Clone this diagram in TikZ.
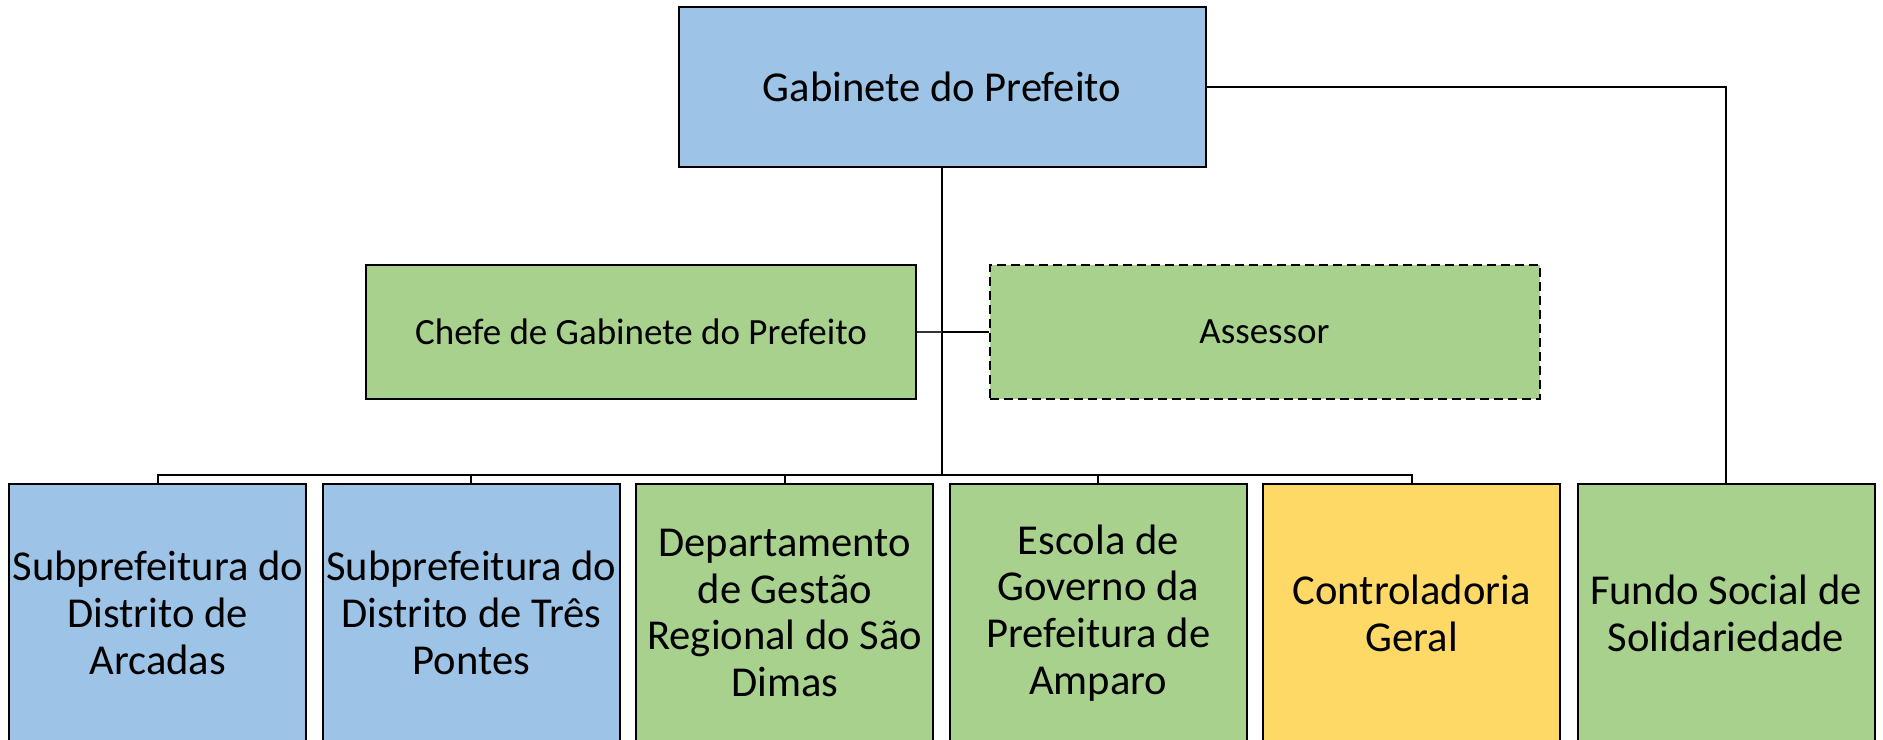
\documentclass[tikz,border=0pt]{standalone}
\usepackage{fontspec}
\setmainfont{Carlito}
\usetikzlibrary{calc}

\definecolor{boxblue}{HTML}{9DC3E6}
\definecolor{boxgreen}{HTML}{A9D18E}
\definecolor{boxyellow}{HTML}{FFD966}

\begin{document}
\begin{tikzpicture}[x=0.5pt,y=-0.5pt,
  unitbox/.style={draw,line width=1pt,inner sep=0pt,align=center,
    font=\fontsize{21.3}{23.4}\selectfont},
  topbox/.style={unitbox,minimum width=263.5pt,minimum height=80pt},
  midbox/.style={unitbox,minimum width=275pt,minimum height=67pt,
    font=\fontsize{18.5}{22}\selectfont},
  lowbox/.style={unitbox,minimum width=148.5pt,minimum height=129pt},
  conn/.style={line width=1pt}]
  \useasboundingbox (0,0) rectangle (1883,739);

  % top and staff
  \node[topbox,fill=boxblue] (gab) at (942,86.5) {Gabinete do Prefeito};
  \node[midbox,fill=boxgreen] (chefe) at (641,332) {Chefe de Gabinete do Prefeito};
  \node[midbox,fill=boxgreen,dash pattern=on 4.5pt off 2.5pt] (assessor) at (1264.5,332) {Assessor};

  % bottom row
  \node[lowbox,fill=boxblue] (arcadas) at (157.8,613) {Subprefeitura do\\Distrito de\\Arcadas};
  \node[lowbox,fill=boxblue] (pontes) at (471.3,613) {Subprefeitura do\\Distrito de Três\\Pontes};
  \node[lowbox,fill=boxgreen] (saodimas) at (784.8,613) {Departamento\\de Gestão\\Regional do São\\Dimas};
  \node[lowbox,fill=boxgreen] (escola) at (1098.3,613) {Escola de\\Governo da\\Prefeitura de\\Amparo};
  \node[lowbox,fill=boxyellow] (controle) at (1411.8,613) {Controladoria\\Geral};
  \node[lowbox,fill=boxgreen] (fundo) at (1726,613) {Fundo Social de\\Solidariedade};

  \coordinate (bus) at (942,475);

  \draw[conn] (gab) -- (bus);
  \draw[line width=0.7pt,black!80] (chefe.east) -- (chefe.east -| bus);
  \draw[conn] (chefe.east -| bus) -- (assessor.west);
  \draw[conn] (gab) -| (fundo);
  \draw[conn] (arcadas.north) -- (arcadas.north |- bus) -- (controle.north |- bus) -- (controle.north);
  \draw[conn] (pontes.north) -- (pontes.north |- bus);
  \draw[conn] (saodimas.north) -- (saodimas.north |- bus);
  \draw[conn] (escola.north) -- (escola.north |- bus);
\end{tikzpicture}
\end{document}
